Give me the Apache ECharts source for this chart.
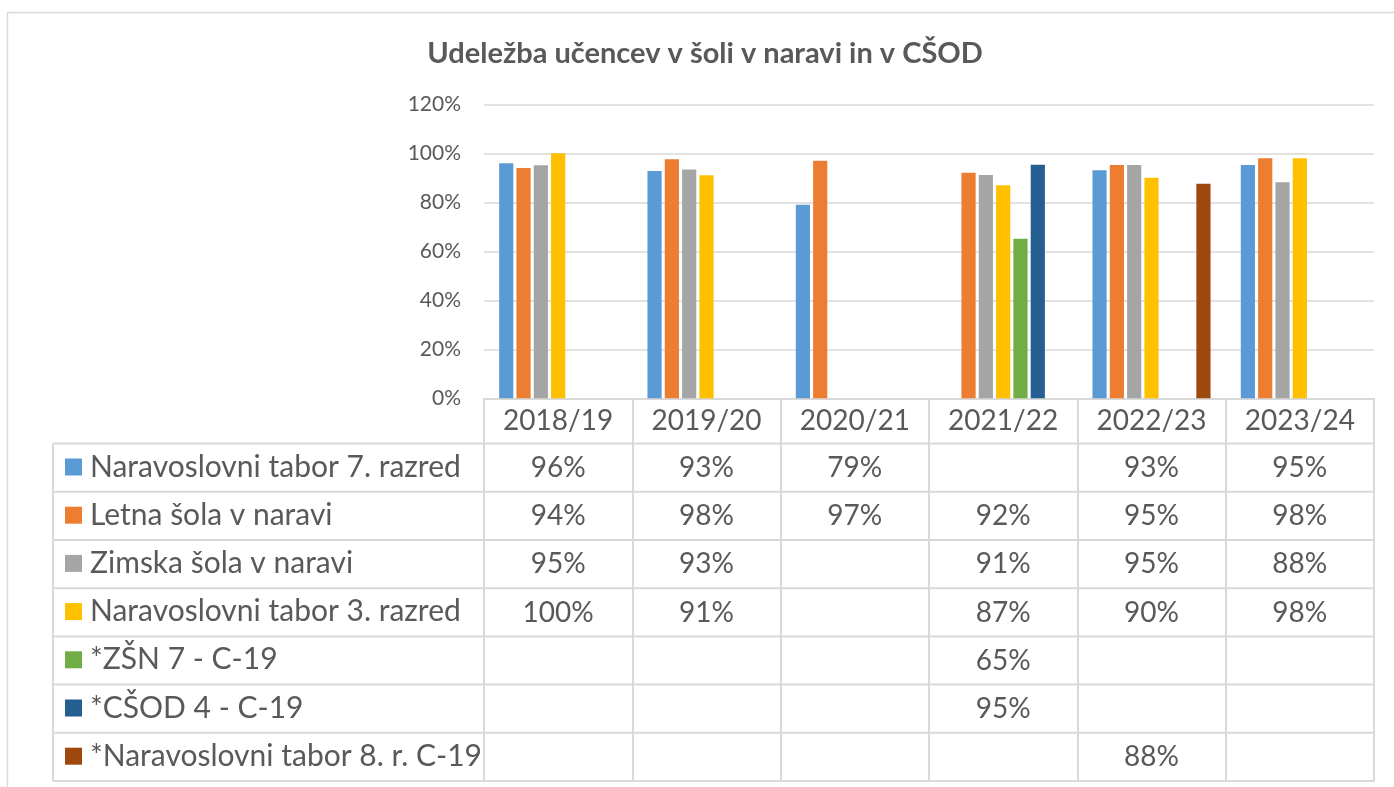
<!DOCTYPE html>
<html>
<head>
<meta charset="utf-8">
<script src="https://cdn.jsdelivr.net/npm/echarts@6/dist/echarts.min.js"></script>
<style>
html,body{margin:0;padding:0;background:#fff}
#main{width:1394px;height:787px}
</style>
</head>
<body>
<div id="main"></div>
<script>
var years = ['2018/19', '2019/20', '2020/21', '2021/22', '2022/23', '2023/24'];
var names = ['Naravoslovni tabor 7. razred', 'Letna šola v naravi', 'Zimska šola v naravi',
	'Naravoslovni tabor 3. razred', '*ZŠN 7 - C-19', '*CŠOD 4 - C-19', '*Naravoslovni tabor 8. r. C-19'];
var colors = ['#5b9bd5', '#ed7d31', '#a5a5a5', '#ffc000', '#70ad47', '#255e91', '#9e480e'];

var tabor7 = [0.959, 0.928, 0.79, null, 0.931, 0.952];
var letna  = [0.94, 0.976, 0.97, 0.921, 0.952, 0.98];
var zimska = [0.951, 0.934, null, 0.911, 0.952, 0.882];
var tabor3 = [1.0, 0.91, null, 0.87, 0.90, 0.98];
var zsn7   = [null, null, null, 0.651, null, null];
var csod4  = [null, null, null, 0.953, null, null];
var tabor8 = [null, null, null, null, 0.876, null];

var title = 'Udeležba učencev v šoli v naravi in v CŠOD';
var seriesData = [tabor7, letna, zimska, tabor3, zsn7, csod4, tabor8];

var FONT = 'Lato';
var TXT = '#595959';
var LINE = '#d9d9d9';

function pct(v) { return Math.round(v * 100) + '%'; }

// table lines (rows) under the chart
var rowTop = 443.6, rowH = 48.2, tabLeft = 53, tabRight = 1374;
var graphics = [
	{type: 'rect', shape: {x: 7.5, y: 12.5, width: 1420, height: 800}, style: {fill: null, stroke: LINE, lineWidth: 1.5}, silent: true},
	{type: 'text', x: 705, y: 54, style: {text: title, align: 'center', verticalAlign: 'middle', fill: TXT, font: 'bold 29px ' + FONT}},
	{type: 'line', shape: {x1: tabLeft, y1: rowTop, x2: tabLeft, y2: rowTop + rowH * 7}, style: {stroke: LINE, lineWidth: 2}}
];
for (var k = 0; k <= seriesData.length; k++) {
	graphics.push({type: 'line', shape: {x1: tabLeft, y1: rowTop + rowH * k, x2: tabRight, y2: rowTop + rowH * k}, style: {stroke: LINE, lineWidth: 2}});
}

var series = [];
for (var i = 0; i < seriesData.length; i++) {
	series.push({
		name: names[i],
		type: 'bar',
		barCategoryGap: '20.4%',
		barGap: '22%',
		itemStyle: {color: colors[i]},
		data: seriesData[i]
	});
}

var myChart = echarts.init(document.getElementById('main'));
var option = {
	animation: false,
	color: colors,
	textStyle: {fontFamily: FONT},
	grid: {left: 484, right: 20, top: 104.3, bottom: 388.7, outerBoundsMode: 'none'},
	legend: {
		orient: 'vertical', left: 65, top: 452, padding: 0,
		itemWidth: 17, itemHeight: 17, itemGap: 18.2, icon: 'rect', selectedMode: false,
		textStyle: {fontFamily: FONT, fontSize: 30, lineHeight: 30, color: TXT, padding: [0, 0, 0, 3]},
		data: names
	},
	xAxis: {
		type: 'category',
		data: years,
		axisLine: {lineStyle: {color: LINE, width: 2}},
		axisTick: {show: true, length: 383, lineStyle: {color: LINE, width: 2}},
		axisLabel: {
			interval: 0, margin: 0,
			formatter: function (value, idx) {
				var s = '{h|' + value + '}';
				for (var k = 0; k < seriesData.length; k++) {
					var v = seriesData[k][idx];
					s += '\n{v|' + (v == null ? ' ' : pct(v)) + '}';
				}
				return s;
			},
			rich: {
				h: {fontFamily: FONT, fontSize: 28, color: TXT, lineHeight: 45.6},
				v: {fontFamily: FONT, fontSize: 28, color: TXT, lineHeight: 48.2}
			}
		}
	},
	yAxis: {
		type: 'value',
		min: 0, max: 1.2, interval: 0.2,
		axisLine: {show: false},
		axisTick: {show: false},
		axisLabel: {margin: 23, fontFamily: FONT, fontSize: 21, color: TXT, formatter: pct},
		splitLine: {lineStyle: {color: LINE, width: 1.5}}
	},
	graphic: graphics,
	series: series
};
myChart.setOption(option);
</script>
</body>
</html>
